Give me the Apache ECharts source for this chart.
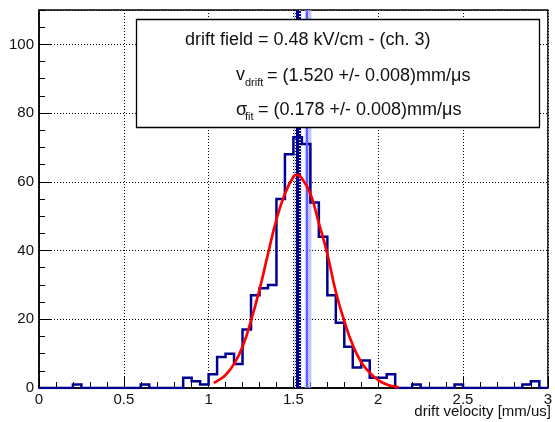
<!DOCTYPE html>
<html>
<head>
<meta charset="utf-8">
<script src="https://cdn.jsdelivr.net/npm/echarts@6/dist/echarts.min.js"></script>
<style>
html,body{margin:0;padding:0;background:#fff;}
#c{width:555px;height:422px;}
</style>
</head>
<body>
<div id="c"></div>
<script>
// ---- data ----
const binStart = 0;
const binWidth = 0.05;
const counts = [0,0,0,0,1,0,0,0,0,0, 0,0,1,0,0,0,0,3,2,1,
                4,9,10,7,17,27,29,30,55,68, 73,71,54,44,27,19,12,6,8,3,
                3,4,0,0,1,0,0,0,0,1, 0,0,0,0,0,0,0,1,2,0];
const fitX = [1.03,1.05,1.1,1.15,1.2,1.25,1.3,1.35,1.4,1.45,1.5,1.52,1.55,1.6,1.65,1.7,1.75,1.8,1.85,1.9,1.95,2.0,2.05,2.1,2.12];
const fitY = [1.5,2.0,3.8,7.0,12.0,19.6,28.6,39.0,49.0,56.5,61.5,62.0,61.0,56.5,48.0,39.0,28.0,19.5,12.5,7.5,4.5,2.3,1.0,0.4,0.2];
const vDrift = 1.524;
const vDriftBand = [1.508, 1.546];
const vAlt = 1.579;
const vAltBand = [1.567, 1.606];
const xTicks = [0, 0.5, 1, 1.5, 2, 2.5, 3];
const yTicks = [0, 20, 40, 60, 80, 100];
const textLine1 = 'drift field = 0.48 kV/cm - (ch. 3)';
const textLine2 = ['v', 'drift', '= (1.520 +/- 0.008)mm/\u03bcs'];
const textLine3 = ['\u03c3', 'fit', '= (0.178 +/- 0.008)mm/\u03bcs'];
const xTitle = 'drift velocity [mm/us]';

// ---- build series data ----
const histData = [];
counts.forEach((c, i) => {
  const lo = +(binStart + i * binWidth).toFixed(3);
  const hi = +(binStart + (i + 1) * binWidth).toFixed(3);
  histData.push([lo, c], [hi, c]);
});
const fitData = fitX.map((x, i) => [x, fitY[i]]);

function pattern(draw, size) {
  const cv = document.createElement('canvas');
  cv.width = size; cv.height = size;
  const ctx = cv.getContext('2d');
  draw(ctx);
  return {image: cv, repeat: 'repeat'};
}
const navyHatch = pattern(ctx => {
  ctx.fillStyle = 'rgba(255,255,255,0.6)';
  ctx.fillRect(0,0,3,3);
  ctx.fillStyle = '#000090';
  ctx.fillRect(0,0,1,1); ctx.fillRect(2,0,1,1); ctx.fillRect(1,1,1,1);
  ctx.fillRect(0,2,1,1); ctx.fillRect(2,2,1,1);
}, 3);
const lightHatch = pattern(ctx => {
  ctx.fillStyle = 'rgba(190,190,255,0.55)';
  ctx.fillRect(0,0,2,2);
  ctx.fillStyle = 'rgba(140,140,255,0.6)';
  ctx.fillRect(0,0,1,1); ctx.fillRect(1,1,1,1);
}, 2);

const FONT = 'Liberation Sans, Arial, Helvetica, sans-serif';
const chart = echarts.init(document.getElementById('c'), null, {renderer: 'canvas'});
const X0 = xTicks[0], X1 = xTicks[xTicks.length - 1];

chart.setOption({
  animation: false,
  backgroundColor: '#fff',
  grid: {left: 39, top: 10, right: 4, bottom: 34, show: true, borderColor: '#000', borderWidth: 1.3, backgroundColor: 'transparent'},
  xAxis: [{
    type: 'value', min: X0, max: X1, interval: xTicks[1] - xTicks[0], position: 'bottom',
    axisLine: {show: true, onZero: false, lineStyle: {color: '#000', width: 1.5}},
    axisTick: {show: true, inside: true, length: 11, lineStyle: {color: '#000', width: 1}},
    axisLabel: {show: true, color: '#111', fontSize: 15, fontFamily: FONT, margin: 4},
    splitLine: {show: true, lineStyle: {color: '#000', width: 1, type: [1, 2]}}
  }, {
    type: 'value', min: X0, max: X1, interval: 0.1, position: 'bottom', gridIndex: 0,
    axisLine: {show: false},
    axisTick: {show: true, inside: true, length: 6, lineStyle: {color: '#000', width: 1}},
    axisLabel: {show: false}, splitLine: {show: false}
  }],
  yAxis: [{
    type: 'value', min: 0, max: 110, interval: yTicks[1] - yTicks[0], position: 'left',
    axisLine: {show: true, onZero: false, lineStyle: {color: '#000', width: 1.5}},
    axisTick: {show: true, inside: true, length: 12, lineStyle: {color: '#000', width: 1}},
    axisLabel: {show: true, color: '#111', fontSize: 15, fontFamily: FONT, margin: 5, showMaxLabel: false},
    splitLine: {show: true, lineStyle: {color: '#000', width: 1, type: [1, 2]}}
  }, {
    type: 'value', min: 0, max: 110, interval: 5, position: 'left', gridIndex: 0,
    axisLine: {show: false},
    axisTick: {show: true, inside: true, length: 6, lineStyle: {color: '#000', width: 1}},
    axisLabel: {show: false}, splitLine: {show: false}
  }],
  series: [{
    name: 'hist', type: 'line', data: histData, showSymbol: false, symbol: 'none',
    lineStyle: {color: '#000090', width: 2.5, join: 'miter'}, z: 3
  }, {
    name: 'bands', type: 'line', data: [], z: 4,
    markArea: {silent: true, data: [
      [{xAxis: vAltBand[0], itemStyle: {color: lightHatch}}, {xAxis: vAltBand[1]}],
      [{xAxis: vDriftBand[0], itemStyle: {color: navyHatch}}, {xAxis: vDriftBand[1]}]
    ]},
    markLine: {silent: true, symbol: 'none', label: {show: false}, data: [
      {xAxis: vAlt, lineStyle: {color: '#6060ff', width: 2, type: 'solid'}},
      {xAxis: vDrift, lineStyle: {color: '#000090', width: 3, type: 'solid'}}
    ]}
  }, {
    name: 'fit', type: 'line', data: fitData, smooth: true, showSymbol: false, symbol: 'none',
    lineStyle: {color: '#ff0000', width: 2.7}, z: 5
  }],
  graphic: [
    {type: 'rect', z: 100, shape: {x: 136.5, y: 19.5, width: 403, height: 108},
      style: {fill: '#fff', stroke: '#000', lineWidth: 1.3}},
    {type: 'text', z: 101, x: 185, y: 40, style: {text: textLine1, fontSize: 18, fontFamily: FONT, fill: '#111', textVerticalAlign: 'middle'}},
    {type: 'text', z: 101, x: 236, y: 75, style: {text: textLine2[0], fontSize: 18, fontFamily: FONT, fill: '#111', textVerticalAlign: 'middle'}},
    {type: 'text', z: 101, x: 245, y: 83, style: {text: textLine2[1], fontSize: 11, fontFamily: FONT, fill: '#111', textVerticalAlign: 'middle'}},
    {type: 'text', z: 101, x: 267, y: 76, style: {text: textLine2[2], fontSize: 18, fontFamily: FONT, fill: '#111', textVerticalAlign: 'middle'}},
    {type: 'text', z: 101, x: 236, y: 110, style: {text: textLine3[0], fontSize: 18, fontFamily: FONT, fill: '#111', textVerticalAlign: 'middle'}},
    {type: 'text', z: 101, x: 245, y: 117, style: {text: textLine3[1], fontSize: 11, fontFamily: FONT, fill: '#111', textVerticalAlign: 'middle'}},
    {type: 'text', z: 101, x: 258, y: 110, style: {text: textLine3[2], fontSize: 18, fontFamily: FONT, fill: '#111', textVerticalAlign: 'middle'}},
    {type: 'text', z: 101, x: 551, y: 412, style: {text: xTitle, fontSize: 15, fontFamily: FONT, fill: '#111', textAlign: 'right', textVerticalAlign: 'middle'}}
  ]
});
</script>
</body>
</html>
